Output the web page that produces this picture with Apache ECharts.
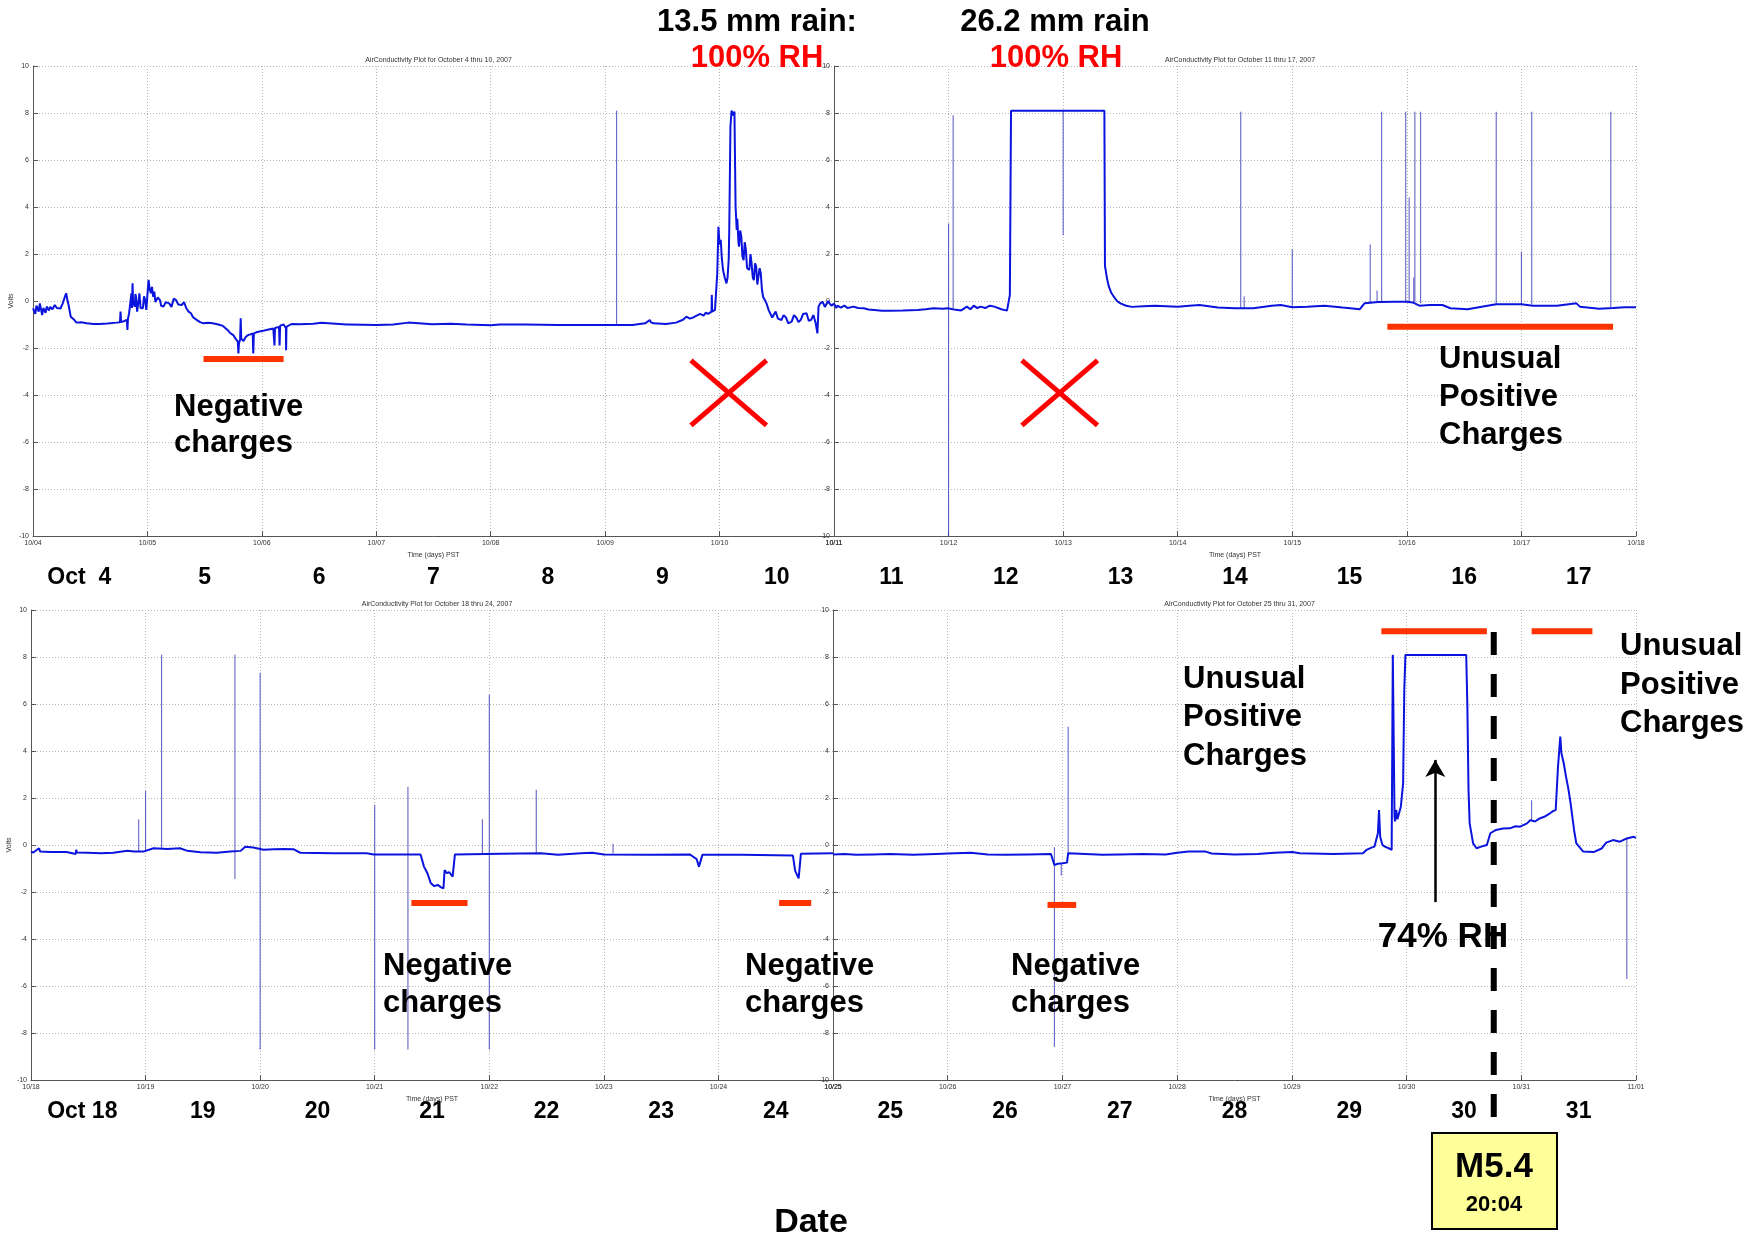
<!DOCTYPE html>
<html><head><meta charset="utf-8">
<script src="https://cdn.jsdelivr.net/npm/echarts@6/dist/echarts.min.js"></script>
<style>html,body{margin:0;padding:0;background:#fff}#c{width:1756px;height:1240px}</style>
</head><body><div id="c"></div>
<script>
// ---------- DATA ----------
const ticksA = ['10/04','10/05','10/06','10/07','10/08','10/09','10/10','10/11'];
const ticksB = ['10/11','10/12','10/13','10/14','10/15','10/16','10/17','10/18'];
const ticksC = ['10/18','10/19','10/20','10/21','10/22','10/23','10/24','10/25'];
const ticksD = ['10/25','10/26','10/27','10/28','10/29','10/30','10/31','11/01'];
const titles = ['AirConductivity Plot for October 4 thru 10, 2007','AirConductivity Plot for October 11 thru 17, 2007',
  'AirConductivity Plot for October 18 thru 24, 2007','AirConductivity Plot for October 25 thru 31, 2007'];
const dayLabelsTop = ['Oct  4','5','6','7','8','9','10','11','12','13','14','15','16','17'];
const dayLabelsBottom = ['Oct 18','19','20','21','22','23','24','25','26','27','28','29','30','31'];

// traces: [day of October, volts]
const traceA = [[4.00,-0.31],[4.02,-0.55],[4.03,-0.2],[4.05,-0.45],[4.06,-0.1],[4.08,-0.6],[4.09,-0.3],[4.11,-0.5],[4.12,-0.24],[4.14,-0.4],[4.15,-0.25],[4.17,-0.35],[4.19,-0.17],[4.21,-0.3],[4.22,-0.22],[4.24,-0.32],[4.26,-0.1],[4.28,0.2],[4.29,0.33],[4.30,0.05],[4.31,-0.15],[4.33,-0.67],[4.36,-0.8],[4.38,-0.92],[4.42,-0.9],[4.47,-0.95],[4.53,-0.98],[4.58,-0.98],[4.65,-0.96],[4.73,-0.92],[4.76,-0.9],[4.765,-0.45],[4.77,-0.9],[4.80,-0.85],[4.82,-0.8],[4.825,-1.23],[4.83,-0.75],[4.84,-0.52],[4.85,-0.1],[4.86,0.33],[4.865,-0.3],[4.87,0.75],[4.875,-0.1],[4.89,-0.24],[4.895,0.3],[4.90,0.18],[4.91,-0.45],[4.92,-0.38],[4.925,0.1],[4.93,0.33],[4.94,-0.3],[4.96,-0.31],[4.97,0.2],[4.98,0.04],[4.99,-0.38],[5.00,-0.3],[5.01,0.9],[5.02,0.5],[5.03,0.33],[5.04,0.6],[5.05,0.18],[5.06,0.4],[5.07,-0.05],[5.08,-0.1],[5.09,0.15],[5.11,0.04],[5.12,-0.2],[5.14,-0.24],[5.16,-0.05],[5.19,-0.1],[5.21,-0.25],[5.23,0.1],[5.25,0.04],[5.27,-0.15],[5.30,-0.17],[5.32,-0.05],[5.34,-0.31],[5.36,-0.45],[5.38,-0.52],[5.40,-0.7],[5.43,-0.8],[5.46,-0.9],[5.49,-0.95],[5.53,-0.93],[5.57,-0.95],[5.62,-1.0],[5.66,-1.06],[5.70,-1.23],[5.72,-1.35],[5.75,-1.45],[5.77,-1.6],[5.79,-1.73],[5.795,-2.23],[5.80,-1.8],[5.81,-1.65],[5.815,-0.74],[5.82,-1.6],[5.84,-1.7],[5.86,-1.52],[5.88,-1.45],[5.90,-1.42],[5.92,-1.38],[5.925,-2.23],[5.93,-1.38],[5.96,-1.32],[6.01,-1.27],[6.05,-1.22],[6.10,-1.17],[6.11,-1.89],[6.115,-1.15],[6.13,-1.1],[6.15,-1.1],[6.155,-1.89],[6.16,-1.05],[6.19,-1.0],[6.21,-1.15],[6.212,-2.1],[6.215,-1.1],[6.23,-1.15],[6.25,-1.0],[6.27,-0.98],[6.33,-0.99],[6.45,-0.97],[6.52,-0.93],[6.53,-0.98],[6.74,-1.0],[6.75,-1.07],[6.76,-1.0],[7.0,-1.02],[7.15,-1.0],[7.28,-0.92],[7.29,-0.98],[7.49,-0.99],[7.65,-0.97],[7.79,-1.0],[8.0,-1.03],[8.01,-1.1],[8.08,-1.0],[8.3,-1.0],[8.6,-1.02],[8.95,-1.02],[9.1,-1.02],[9.24,-1.02],[9.35,-0.95],[9.39,-0.81],[9.40,-0.9],[9.42,-0.95],[9.53,-0.98],[9.62,-0.92],[9.68,-0.8],[9.71,-0.67],[9.74,-0.75],[9.77,-0.7],[9.80,-0.62],[9.83,-0.55],[9.86,-0.62],[9.88,-0.5],[9.90,-0.55],[9.93,-0.45],[9.932,0.26],[9.935,-0.45],[9.96,-0.38],[9.98,1.18],[9.99,3.16],[10.0,2.4],[10.01,2.6],[10.02,1.8],[10.03,1.32],[10.045,1.0],[10.06,0.75],[10.07,1.0],[10.08,1.8],[10.085,3.16],[10.095,7.42],[10.105,8.1],[10.12,7.9],[10.13,8.06],[10.135,6.0],[10.14,4.0],[10.15,3.02],[10.155,3.5],[10.16,3.45],[10.165,2.5],[10.17,2.31],[10.18,3.0],[10.19,2.74],[10.20,1.9],[10.21,1.74],[10.22,2.5],[10.23,2.17],[10.24,1.4],[10.26,1.32],[10.27,2.0],[10.28,1.6],[10.29,1.0],[10.30,0.89],[10.31,1.6],[10.32,1.46],[10.33,0.7],[10.34,0.75],[10.35,1.4],[10.36,1.18],[10.37,0.5],[10.38,0.18],[10.40,0.0],[10.41,-0.1],[10.43,-0.4],[10.44,-0.38],[10.46,-0.7],[10.47,-0.67],[10.49,-0.45],[10.51,-0.75],[10.54,-0.81],[10.56,-0.6],[10.58,-0.7],[10.60,-0.95],[10.63,-0.88],[10.65,-0.6],[10.67,-0.7],[10.69,-0.9],[10.71,-0.8],[10.73,-0.55],[10.76,-0.52],[10.78,-0.85],[10.80,-0.8],[10.82,-0.6],[10.84,-0.95],[10.855,-1.38],[10.865,-0.24],[10.88,-0.1],[10.90,-0.03],[10.92,-0.25],[10.93,-0.17],[10.95,0.0],[10.96,-0.1],[10.98,-0.2],[11.0,-0.1]];
const traceB = [[11.0,-0.1],[11.02,-0.3],[11.03,-0.2],[11.06,-0.28],[11.09,-0.2],[11.12,-0.3],[11.17,-0.24],[11.21,-0.3],[11.26,-0.31],[11.30,-0.36],[11.35,-0.38],[11.42,-0.41],[11.49,-0.41],[11.6,-0.4],[11.73,-0.38],[11.8,-0.35],[11.87,-0.31],[11.95,-0.33],[11.99,-0.31],[12.05,-0.36],[12.11,-0.4],[12.14,-0.3],[12.16,-0.24],[12.19,-0.35],[12.22,-0.2],[12.25,-0.3],[12.28,-0.24],[12.32,-0.3],[12.36,-0.2],[12.40,-0.24],[12.46,-0.35],[12.51,-0.41],[12.535,0.26],[12.545,8.1],[13.0,8.1],[13.36,8.1],[13.365,1.5],[13.375,1.2],[13.385,0.9],[13.40,0.6],[13.42,0.35],[13.44,0.2],[13.47,0.0],[13.50,-0.1],[13.55,-0.2],[13.6,-0.25],[13.7,-0.22],[13.8,-0.2],[13.9,-0.22],[14.0,-0.24],[14.1,-0.2],[14.19,-0.17],[14.35,-0.28],[14.5,-0.31],[14.66,-0.31],[14.82,-0.2],[14.9,-0.17],[15.0,-0.27],[15.13,-0.24],[15.28,-0.2],[15.44,-0.28],[15.59,-0.35],[15.63,-0.1],[15.75,-0.04],[15.9,-0.03],[16.0,-0.03],[16.05,-0.06],[16.11,-0.2],[16.2,-0.17],[16.31,-0.17],[16.38,-0.31],[16.53,-0.35],[16.69,-0.21],[16.78,-0.14],[16.9,-0.14],[17.0,-0.14],[17.1,-0.2],[17.31,-0.2],[17.48,-0.1],[17.51,-0.24],[17.68,-0.33],[17.8,-0.3],[17.9,-0.27],[18.0,-0.27]];
const traceC = [[18.0,-0.28],[18.02,-0.32],[18.07,-0.14],[18.08,-0.28],[18.17,-0.3],[18.31,-0.3],[18.39,-0.38],[18.395,-0.2],[18.4,-0.32],[18.49,-0.33],[18.61,-0.35],[18.72,-0.33],[18.84,-0.24],[18.9,-0.28],[18.98,-0.28],[19.07,-0.14],[19.19,-0.17],[19.30,-0.14],[19.36,-0.24],[19.48,-0.31],[19.62,-0.33],[19.74,-0.28],[19.83,-0.25],[19.87,-0.07],[19.94,-0.11],[20.03,-0.2],[20.12,-0.18],[20.21,-0.17],[20.29,-0.18],[20.35,-0.33],[20.64,-0.35],[20.93,-0.35],[20.99,-0.4],[21.2,-0.4],[21.40,-0.4],[21.43,-0.92],[21.46,-1.2],[21.49,-1.63],[21.52,-1.75],[21.55,-1.7],[21.58,-1.8],[21.60,-1.85],[21.61,-1.07],[21.63,-1.2],[21.65,-1.15],[21.68,-1.35],[21.70,-0.4],[22.1,-0.37],[22.45,-0.35],[22.6,-0.42],[22.8,-0.35],[22.9,-0.33],[23.0,-0.4],[23.4,-0.42],[23.75,-0.4],[23.78,-0.5],[23.81,-0.6],[23.83,-0.92],[23.86,-0.42],[24.2,-0.42],[24.65,-0.45],[24.67,-1.1],[24.70,-1.42],[24.72,-0.37],[25.0,-0.35]];
const traceD = [[25.0,-0.4],[25.1,-0.38],[25.2,-0.42],[25.35,-0.4],[25.5,-0.38],[25.7,-0.42],[25.9,-0.38],[26.0,-0.36],[26.2,-0.33],[26.35,-0.4],[26.5,-0.42],[26.7,-0.4],[26.9,-0.38],[26.93,-0.85],[26.96,-0.8],[27.0,-0.78],[27.04,-0.75],[27.05,-0.35],[27.2,-0.38],[27.35,-0.42],[27.5,-0.4],[27.7,-0.38],[27.9,-0.4],[28.0,-0.33],[28.1,-0.28],[28.25,-0.28],[28.3,-0.36],[28.5,-0.4],[28.7,-0.38],[28.85,-0.33],[29.0,-0.3],[29.07,-0.35],[29.36,-0.38],[29.62,-0.35],[29.65,-0.21],[29.70,-0.1],[29.72,-0.07],[29.75,0.5],[29.76,1.49],[29.77,0.35],[29.79,0.0],[29.81,-0.07],[29.85,-0.15],[29.87,-0.21],[29.88,8.09],[29.89,8.09],[29.895,1.2],[29.90,1.0],[29.91,1.49],[29.92,1.1],[29.93,1.06],[29.95,1.63],[29.97,2.62],[29.98,6.6],[29.99,8.09],[30.52,8.09],[30.53,5.9],[30.54,2.34],[30.55,0.92],[30.58,0.07],[30.61,-0.14],[30.65,-0.07],[30.70,0.0],[30.73,0.5],[30.78,0.64],[30.84,0.7],[30.90,0.71],[30.95,0.8],[30.99,0.78],[31.05,0.92],[31.08,1.06],[31.12,1.0],[31.16,1.13],[31.2,1.2],[31.25,1.35],[31.28,1.45],[31.30,1.49],[31.32,3.33],[31.34,4.61],[31.35,3.9],[31.37,3.48],[31.39,2.91],[31.41,2.4],[31.43,1.77],[31.46,0.64],[31.48,0.07],[31.54,-0.28],[31.63,-0.3],[31.70,-0.15],[31.74,0.1],[31.80,0.21],[31.86,0.14],[31.92,0.28],[31.98,0.35],[32.0,0.3]];

// single-sample spikes: [day, low volts, high volts]
const spikesA = [[9.10,-1.02,8.1]];
const spikesB = [[12.0,-10,3.3],[12.04,-0.3,7.9],[13.0,2.8,8.1],[14.55,-0.3,8.05],[14.58,-0.3,0.2],[15.0,-0.27,2.2],[15.68,-0.1,2.4],[15.74,-0.05,0.45],[15.78,-0.05,8.05],[15.99,-0.05,8.05],[16.02,-0.05,4.4],[16.06,-0.05,1.0],[16.07,-0.05,8.05],[16.12,-0.1,8.05],[16.78,-0.14,8.05],[17.0,-0.14,2.1],[17.09,-0.15,8.05],[17.78,-0.3,8.05]];
const spikesC = [[18.94,-0.25,1.1],[19.0,-0.28,2.3],[19.14,-0.17,8.1],[19.78,-1.45,8.1],[20.0,-8.7,7.33],[21.0,-8.7,1.7],[21.29,-8.7,2.48],[21.94,-0.35,1.1],[22.0,-8.7,6.4],[22.41,-0.35,2.35],[23.08,-0.35,0.05]];
const spikesD = [[26.93,-8.6,-0.1],[26.99,-1.3,-0.8],[27.05,-0.4,5.03],[31.09,1.0,1.9],[31.92,-5.7,0.3]];

// annotation bars: [grid, day start, day end, volts]
const redBars = [[0,5.49,6.19,-2.47],[1,15.83,17.80,-1.1],[2,21.32,21.81,-2.47],[2,24.53,24.81,-2.47],[3,26.87,27.12,-2.55],[3,29.78,30.70,9.1],[3,31.09,31.62,9.1]];
// red crosses: [grid, center day, center volts]
const crosses = [[0,10.08,-3.91],[1,12.97,-3.91]];
const quakeDay = 30.76;

// ---------- CHART ----------
const FONT = '"Liberation Sans", Arial, sans-serif';
const chart = echarts.init(document.getElementById('c'), null, {renderer:'canvas'});
const grids = [
  {left:33, top:66, width:801, height:470},
  {left:834, top:66, width:802, height:470},
  {left:31, top:610, width:802, height:470},
  {left:833, top:610, width:803, height:470}
];
const tickSets = [ticksA, ticksB, ticksC, ticksD];
const mins = [4, 11, 18, 25];
const tiny = {fontSize:7, color:'#333', fontFamily:FONT};

const xAxes = grids.map((g,i)=>({
  type:'value', gridIndex:i, min:mins[i], max:mins[i]+7, interval:1,
  name:'Time (days) PST', nameLocation:'middle', nameGap:16, nameTextStyle:tiny,
  axisLine:{show:true, onZero:false, lineStyle:{color:'#555', width:1}},
  axisTick:{show:true, inside:true, length:5, lineStyle:{color:'#555'}},
  axisLabel:{...tiny, margin:4, formatter:v=>tickSets[i][Math.round(v-mins[i])]},
  splitLine:{show:true, lineStyle:{color:'#b5b5b5', type:[1,2], width:1}}
}));
const yAxes = grids.map((g,i)=>({
  type:'value', gridIndex:i, min:-10, max:10, interval:2,
  name:(i===0||i===2)?'Volts':'', nameLocation:'middle', nameGap:14, nameRotate:90, nameTextStyle:tiny,
  axisLine:{show:true, onZero:false, lineStyle:{color:'#555', width:1}},
  axisTick:{show:true, inside:true, length:5, lineStyle:{color:'#555'}},
  axisLabel:{...tiny, margin:4},
  splitLine:{show:true, lineStyle:{color:'#b5b5b5', type:[1,2], width:1}}
}));

const traces = [traceA, traceB, traceC, traceD];
const spikes = [spikesA, spikesB, spikesC, spikesD];
const series = [];
traces.forEach((t,i)=>{
  series.push({type:'line', xAxisIndex:i, yAxisIndex:i, data:t, showSymbol:false, symbol:'none',
    lineStyle:{color:'#0a14dc', width:2}, silent:true, z:3});
  series.push({type:'custom', xAxisIndex:i, yAxisIndex:i, data:spikes[i], encode:{x:0, y:[1,2]}, silent:true, z:2,
    renderItem:(params, api)=>{
      const p1 = api.coord([api.value(0), api.value(1)]);
      const p2 = api.coord([api.value(0), api.value(2)]);
      return {type:'line', shape:{x1:p1[0], y1:p1[1], x2:p2[0], y2:p2[1]}, style:{stroke:'rgba(60,60,185,0.8)', lineWidth:1.1}};
    }});
});
const seg = (gi, pts, style) => ({type:'line', xAxisIndex:gi, yAxisIndex:gi, data:pts, showSymbol:false, symbol:'none',
  clip:false, silent:true, z:6, lineStyle:style});
redBars.forEach(b=>series.push(seg(b[0], [[b[1],b[3]],[b[2],b[3]]], {color:'#ff3300', width:6, cap:'butt'})));
crosses.forEach(c=>{
  const dx = 0.33, dy = 1.38;
  series.push(seg(c[0], [[c[1]-dx,c[2]+dy],[c[1]+dx,c[2]-dy]], {color:'#ff0000', width:5}));
  series.push(seg(c[0], [[c[1]+dx,c[2]+dy],[c[1]-dx,c[2]-dy]], {color:'#ff0000', width:5}));
});
const dashSeries = seg(3, [[quakeDay,9.06],[quakeDay,-11.57]], {color:'#000', width:6, type:[23,19], cap:'butt'});
dashSeries.markLine = {silent:true, symbol:['none','arrow'], symbolSize:[15,17], animation:false,
  label:{show:false}, lineStyle:{color:'#000', width:2.5, type:'solid'},
  data:[[{coord:[30.25,-2.43]},{coord:[30.25,3.62]}]]};
series.push(dashSeries);

const option = {
  animation:false,
  backgroundColor:'#fff',
  textStyle:{fontFamily:FONT},
  title: grids.map((g,i)=>({text:titles[i], left:g.left+g.width/2, top:g.top-14, textAlign:'center',
    textStyle:{fontSize:7, fontWeight:'normal', color:'#333', fontFamily:FONT}})),
  grid: grids,
  xAxis: xAxes,
  yAxis: yAxes,
  series: series
};
chart.setOption(option);

// ---------- TEXT ANNOTATIONS ----------
const g = [];
const txt = (text, x, y, size, opts={}) => g.push({type:'text', x, y, z:100, silent:true,
  style:Object.assign({text, font:`bold ${size}px ${FONT}`, fill:'#000', textAlign:opts.align||'left', align:opts.align||'left',
  textVerticalAlign:'middle', verticalAlign:'middle'}, opts.style||{})});

// day labels centred under each day via the axes
dayLabelsTop.forEach((lab,k)=>{
  const day = 4 + k;
  const gi = day < 11 ? 0 : 1;
  const p = chart.convertToPixel({gridIndex:gi}, [day+0.5, 0]);
  txt(lab, p[0] - (k===0 ? 11 : 0), 578, 23, {align:'center'});
});
dayLabelsBottom.forEach((lab,k)=>{
  const day = 18 + k;
  const gi = day < 25 ? 2 : 3;
  const p = chart.convertToPixel({gridIndex:gi}, [day+0.5, 0]);
  txt(lab, p[0] - (k===0 ? 6 : 0), 1112, 23, {align:'center'});
});

txt('13.5 mm rain:', 757, 22, 31, {align:'center'});
txt('100% RH', 757, 58, 31, {align:'center', style:{fill:'#ff0000'}});
txt('26.2 mm rain', 1055, 22, 31, {align:'center'});
txt('100% RH', 1056, 58, 31, {align:'center', style:{fill:'#ff0000'}});

txt('Negative', 174, 407, 31); txt('charges', 174, 443, 31);
[383, 745, 1011].forEach(x=>{ txt('Negative', x, 966, 31); txt('charges', x, 1003, 31); });
[['Unusual',359],['Positive',397],['Charges',435]].forEach(([t,y])=>txt(t, 1439, y, 31));
[['Unusual',679],['Positive',717],['Charges',756]].forEach(([t,y])=>txt(t, 1183, y, 31));
[['Unusual',646],['Positive',685],['Charges',723]].forEach(([t,y])=>txt(t, 1620, y, 31));
txt('74% RH', 1443, 937, 35, {align:'center'});
txt('Date', 811, 1223, 34, {align:'center'});

g.push({type:'rect', z:99, silent:true, shape:{x:1432, y:1133, width:125, height:96},
  style:{fill:'#ffff99', stroke:'#000', lineWidth:2}});
txt('M5.4', 1494, 1167, 35, {align:'center'});
txt('20:04', 1494, 1205, 22, {align:'center'});

chart.setOption({graphic:g});
</script>
</body></html>
